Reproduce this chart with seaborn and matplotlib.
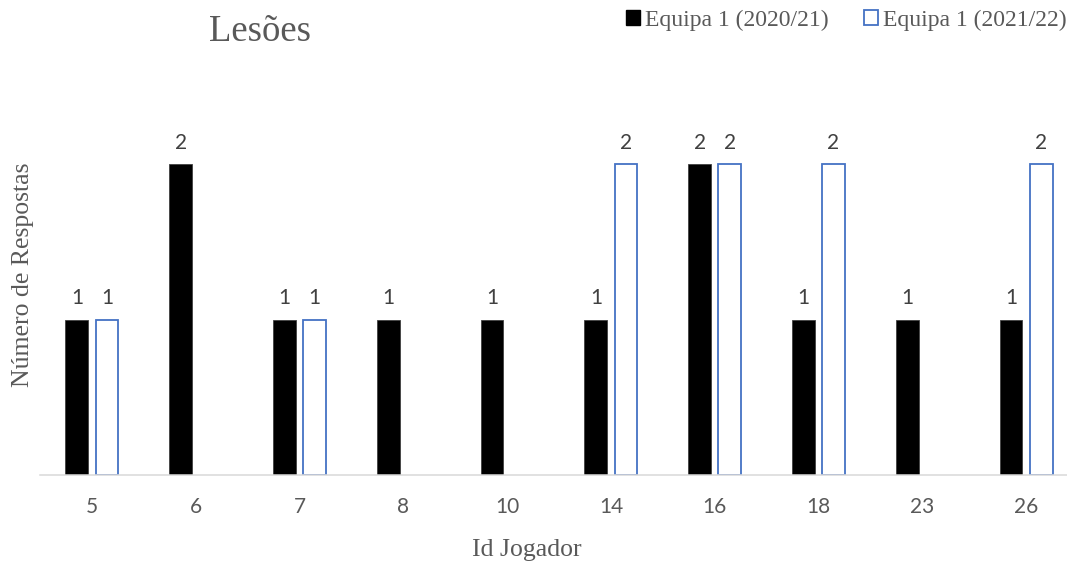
import matplotlib
matplotlib.use("Agg")
import matplotlib.pyplot as plt
from matplotlib.patches import Patch
import pandas as pd
import seaborn as sns

# Player ids and injury counts per season
jogadores = ["5", "6", "7", "8", "10", "14", "16", "18", "23", "26"]
epoca_2020 = [1, 2, 1, 1, 1, 1, 2, 1, 1, 1]
epoca_2021 = [1, 0, 1, 0, 0, 2, 2, 2, 0, 2]
series = ["Equipa 1 (2020/21)", "Equipa 1 (2021/22)"]

df = pd.DataFrame({
    "Jogador": jogadores * 2,
    "Equipa": [series[0]] * len(jogadores) + [series[1]] * len(jogadores),
    "Lesoes": epoca_2020 + epoca_2021,
})

sns.set_theme(style="white")
serif = ["Liberation Serif", "DejaVu Serif"]
sans = ["Lato", "DejaVu Sans"]

W, H = 1067, 565
fig = plt.figure(figsize=(W / 100, H / 100), dpi=100)
ax = fig.add_axes([40 / W, 90 / H, 1038 / W, 388.75 / H])

sns.barplot(data=df, x="Jogador", y="Lesoes", hue="Equipa", order=jogadores,
            hue_order=series, palette=["black", "white"], width=0.58, gap=0.24,
            ax=ax, legend=False, saturation=1)

edge_colors = ["#404040", "#4472C4"]
edge_widths = [0.6, 1.3]
for cont, ec, lw, vals in zip(ax.containers, edge_colors, edge_widths,
                              [epoca_2020, epoca_2021]):
    for patch, v in zip(cont.patches, vals):
        patch.set_edgecolor(ec)
        patch.set_linewidth(lw)
        if v == 0:
            patch.set_visible(False)
    ax.bar_label(cont, labels=[str(v) if v > 0 else "" for v in vals],
                 padding=8, fontsize=15, color="#404040", family=sans)

ax.set_ylim(0, 2.5)
ax.set_xlim(-0.5, 9.5)
for s in ["top", "left", "right"]:
    ax.spines[s].set_visible(False)
ax.spines["bottom"].set_color("#d9d9d9")
ax.spines["bottom"].set_linewidth(1.1)
ax.set_yticks([])
ax.set_xlabel("")
ax.set_ylabel("")
ax.tick_params(axis="x", length=0, pad=16, labelsize=15, labelcolor="#595959")
for lab in ax.get_xticklabels():
    lab.set_family(sans)

fig.text(260 / W, 1 - 32 / H, "Lesões", ha="center", va="center",
         fontsize=26.5, color="#595959", family=serif)
fig.text(527 / W, 1 - 550 / H, "Id Jogador", ha="center", va="center",
         fontsize=18.5, color="#595959", family=serif)
fig.text(23 / W, 1 - 275 / H, "Número de Respostas", ha="center", va="center",
         rotation=90, fontsize=18.5, color="#595959", family=serif)

handles = [Patch(facecolor="black", edgecolor="black"),
           Patch(facecolor="white", edgecolor="#4472C4", linewidth=1.3)]
fig.legend(handles, series, loc="center left",
           bbox_to_anchor=(626 / W, 1 - 20 / H), ncol=2, frameon=False,
           borderpad=0, borderaxespad=0, handlelength=0.6, handleheight=0.6,
           handletextpad=0.2, columnspacing=1.5,
           prop={"family": serif, "size": 17}, labelcolor="#595959")

fig.savefig("out.png", dpi=100)
